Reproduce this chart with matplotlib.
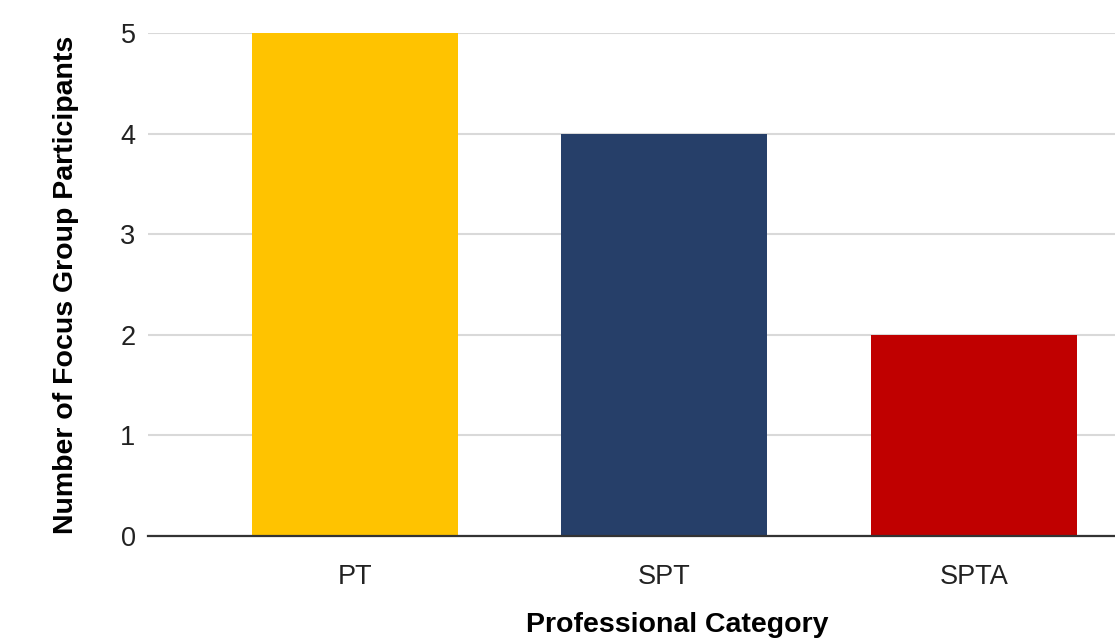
import matplotlib.pyplot as plt

categories = ["PT", "SPT", "SPTA"]
participants = [5, 4, 2]
colors = ["#FFC300", "#263F69", "#C00000"]

plt.rcParams['font.family'] = ['Liberation Sans', 'DejaVu Sans']

fig = plt.figure(figsize=(11.15, 6.4), dpi=100)
ax = fig.add_axes([148 / 1115, 1 - 536 / 640, 1 - 148 / 1115, (536 - 33) / 640])

x = range(len(categories))
ax.bar(x, participants, width=0.666, color=colors, zorder=3, clip_on=False)

ax.set_xlim(-0.669, 2.456)
ax.set_ylim(0, 5)
ax.set_yticks(range(6))
ax.set_xticks(list(x))
ax.set_xticklabels(categories)

ax.yaxis.grid(True, color="#d9d9d9", linewidth=1.5, zorder=0)
for side in ["top", "right", "left"]:
    ax.spines[side].set_visible(False)
ax.spines["bottom"].set_color("#333333")
ax.spines["bottom"].set_linewidth(1.6)
ax.spines["bottom"].set_zorder(4)

ax.tick_params(axis="both", length=0, labelsize=19.5, colors="#222222")
ax.tick_params(axis="x", pad=20)
ax.tick_params(axis="y", pad=9)

ax.set_xlabel("Professional Category", fontsize=20.5, fontweight="bold")
ax.xaxis.set_label_coords(0.547, -0.151)
ax.set_ylabel("Number of Focus Group Participants", fontsize=20.5, fontweight="bold", labelpad=30)

fig.savefig("out.png", dpi=100)
